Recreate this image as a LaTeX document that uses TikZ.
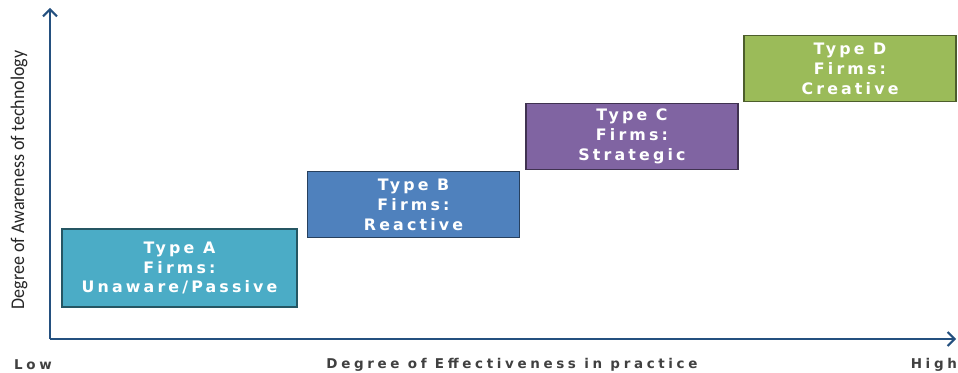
\documentclass[tikz,border=0pt]{standalone}
\usepackage{fontspec}
\setmainfont{Carlito}
\newfontfamily\boxfont[LetterSpace=20]{DejaVu Sans}
\newfontfamily\axisfont[LetterSpace=27]{DejaVu Sans}
\usetikzlibrary{positioning,arrows.meta}

\definecolor{axisblue}{HTML}{24507F}
\definecolor{typeA}{HTML}{4BACC6}
\definecolor{typeB}{HTML}{4F81BD}
\definecolor{typeC}{HTML}{8064A2}
\definecolor{typeD}{HTML}{9BBB59}

\tikzset{
  firm/.style={draw=#1!50!black, fill=#1, line width=1.3pt, text=white,
    font=\boxfont\bfseries\fontsize{13.5}{17}\selectfont, align=center,
    inner sep=0pt, minimum height=1.98cm, minimum width=6.35cm},
  axislabel/.style={font=\axisfont\bfseries\fontsize{11.5}{14}\selectfont, text=black!75},
}

\begin{document}
\begin{tikzpicture}[x=0.03cm,y=-0.03cm]
\useasboundingbox (0,0) rectangle (958,373);

% axes
\coordinate (origin) at (50,339);
\coordinate (ytop) at (50,8);
\coordinate (xend) at (956,339);
\draw[axisblue, line width=1.7pt, -{Straight Barb[length=6pt,width=12pt]}] (origin) -- (ytop);
\draw[axisblue, line width=1.7pt, -{Straight Barb[length=6pt,width=12pt]}] (origin) -- (xend);

% firm types
\node[firm=typeA, minimum width=7.05cm, minimum height=2.34cm] (type a) at (179.5,268) {Type A\\Firms:\\Unaware/Passive};
\node[firm=typeB] (type b) at (413.5,204.5) {Type B\\Firms:\\Reactive};
\node[firm=typeC] (type c) at (632,136.5) {Type C\\Firms:\\Strategic};
\node[firm=typeD] (type d) at (850,68.5) {Type D\\Firms:\\Creative};

% labels
\node[axislabel, anchor=west] (low) at (10,365) {Low};
\node[axislabel] (x label) at (512,365) {Degree of Effectiveness in practice};
\node[axislabel, anchor=east] (high) at (961,365) {High};
\node[font=\fontsize{16.5}{18}\selectfont, rotate=90, xscale=0.93, text=black!85] (y label) at (19,180) {Degree of Awareness of technology};
\end{tikzpicture}
\end{document}
